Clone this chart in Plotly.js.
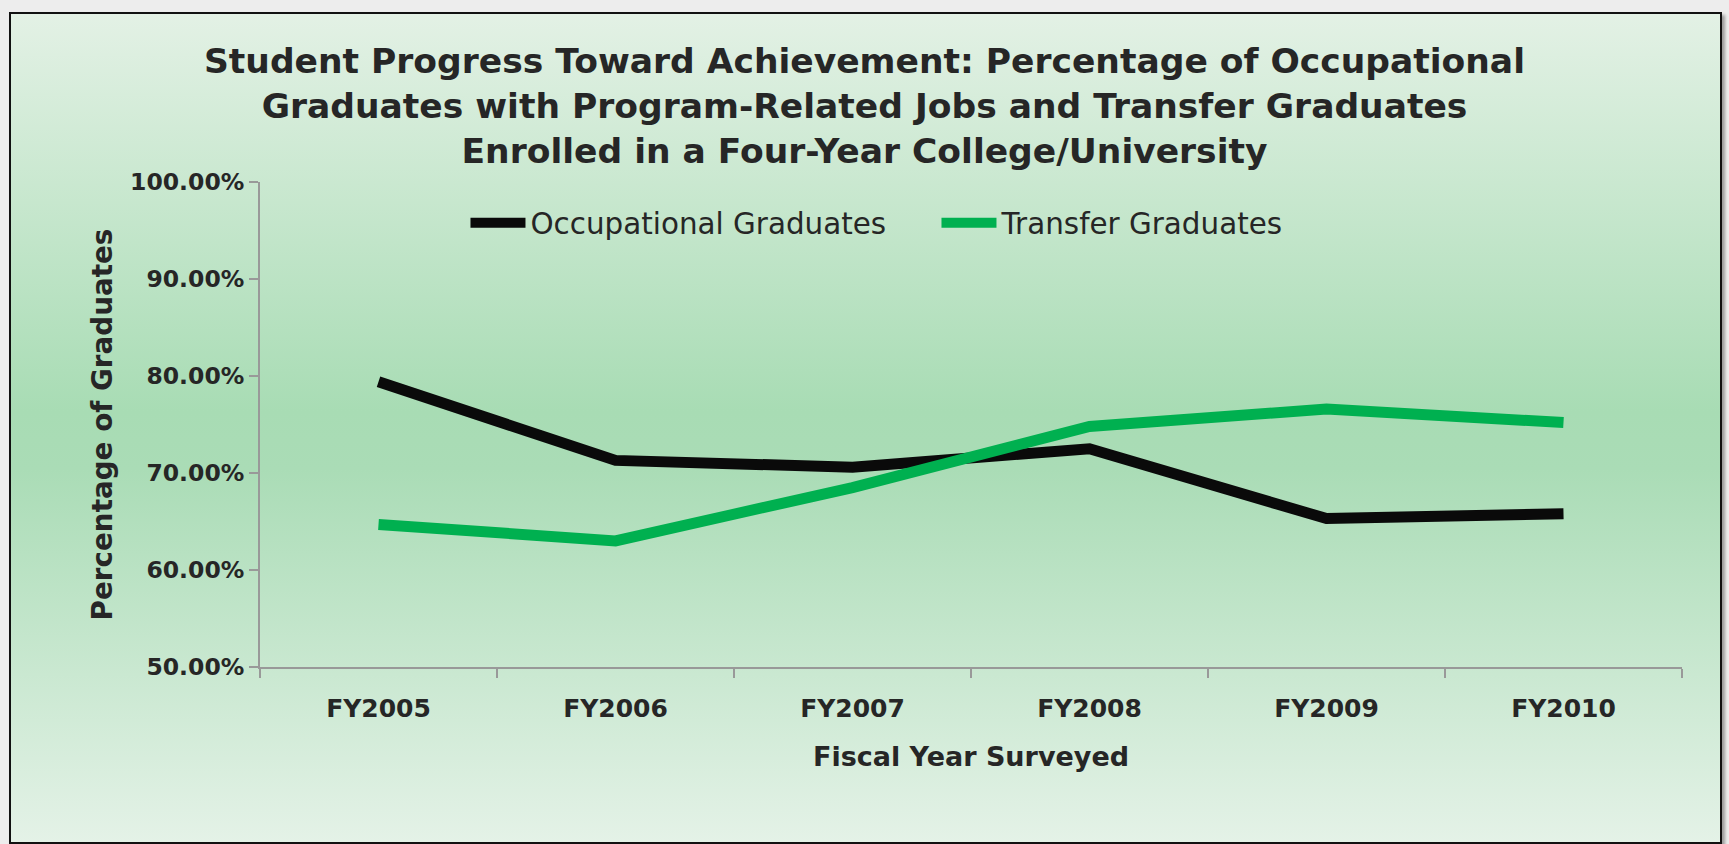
<!DOCTYPE html>
<html>
<head>
<meta charset="utf-8">
<script src="https://cdn.plot.ly/plotly-3.0.1.min.js"></script>
<style>
  html, body { margin: 0; padding: 0; width: 1729px; height: 844px; overflow: hidden; background: #ededed; }
  #frame { position: absolute; left: 9px; top: 12px; width: 1709px; height: 828px;
           border: 2px solid #111; box-shadow: 3px 3px 3px rgba(0,0,0,0.35);
           background: linear-gradient(to bottom, #e3f1e5 0%, #a8dcb4 48%, #aadcb6 55%, #e4f2e7 100%); }
  #chart { position: absolute; left: 0; top: 0; width: 1729px; height: 844px; }
</style>
</head>
<body>
<div id="frame"></div>
<div id="chart"></div>
<script>
const categories = ["FY2005", "FY2006", "FY2007", "FY2008", "FY2009", "FY2010"];
const occupationalGraduates = [0.794, 0.713, 0.706, 0.725, 0.653, 0.658];
const transferGraduates = [0.647, 0.630, 0.685, 0.748, 0.766, 0.752];
const seriesNames = ["Occupational Graduates", "Transfer Graduates"];
const yTickValues = [0.5, 0.6, 0.7, 0.8, 0.9, 1.0];

const FONT = "DejaVu Sans";
const traces = [
  { x: categories, y: occupationalGraduates, name: seriesNames[0], type: "scatter", mode: "lines",
    line: { color: "#0a0a0a", width: 11 } },
  { x: categories, y: transferGraduates, name: seriesNames[1], type: "scatter", mode: "lines",
    line: { color: "#00b050", width: 11 } }
];

const layout = {
  width: 1729, height: 844,
  paper_bgcolor: "rgba(0,0,0,0)", plot_bgcolor: "rgba(0,0,0,0)",
  margin: { l: 260, r: 47, t: 182, b: 177 },
  title: {
    text: "Student Progress Toward Achievement: Percentage of Occupational<br>Graduates with Program-Related Jobs and Transfer Graduates<br>Enrolled in a Four-Year College/University",
    font: { family: FONT, size: 34.5, color: "#262626", weight: "bold" },
    x: 0.5, xref: "container", xanchor: "center", y: 0.913, yref: "container", yanchor: "top"
  },
  font: { family: FONT, color: "#262626" },
  showlegend: true,
  legend: {
    orientation: "h", x: 0.1445, xanchor: "left", y: 0.915, yanchor: "middle",
    font: { family: FONT, size: 29.4, color: "#262626" },
    itemwidth: 55, entrywidth: 401, entrywidthmode: "pixels",
    bgcolor: "rgba(0,0,0,0)"
  },
  xaxis: {
    type: "category", tickson: "boundaries", ticks: "outside", ticklen: 9, tickwidth: 2, tickcolor: "#999999",
    showline: true, linecolor: "#999999", linewidth: 2, showgrid: false, zeroline: false,
    tickfont: { family: FONT, size: 25, color: "#262626", weight: "bold" },
    ticklabelstandoff: 18,
    title: { text: "Fiscal Year Surveyed", font: { family: FONT, size: 27, color: "#262626", weight: "bold" }, standoff: 25 },
    range: [-0.5, 5.5]
  },
  yaxis: {
    range: [0.5, 1.0], tickvals: yTickValues, tickformat: ".2%", ticks: "outside", ticklen: 9, tickwidth: 2,
    tickcolor: "#999999", showline: true, linecolor: "#999999", linewidth: 2, showgrid: false, zeroline: false,
    tickfont: { family: FONT, size: 23.5, color: "#262626", weight: "bold" },
    ticklabelstandoff: 0,
    title: { text: "Percentage of Graduates", font: { family: FONT, size: 27.8, color: "#262626", weight: "bold" }, standoff: 9 }
  }
};

Plotly.newPlot("chart", traces, layout, { displayModeBar: false, staticPlot: true });
</script>
</body>
</html>
